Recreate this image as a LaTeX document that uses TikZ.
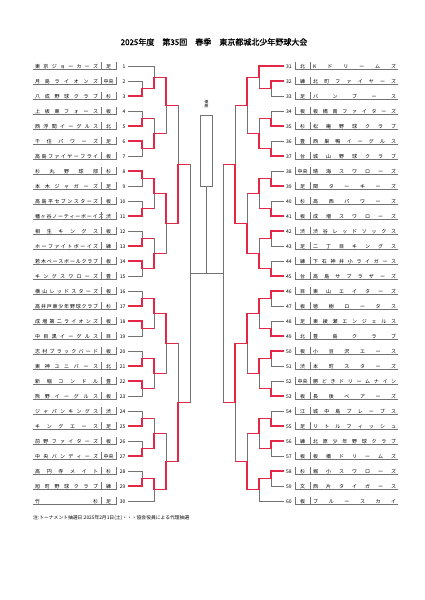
\documentclass[tikz,border=0pt]{standalone}
\usepackage{fontspec}
\setmainfont[AutoFakeBold=1.6]{Noto Sans CJK JP}
\definecolor{winred}{RGB}{226,40,70}

\begin{document}
\begin{tikzpicture}[x=1pt, y=-1pt,
  line/.style={black!55, line width=0.6pt},
  win/.style={winred, line width=1.1pt},
  rowrule/.style={black!55, line width=0.5pt},
  teamname/.style={anchor=base west, inner sep=0pt, font=\fontsize{5}{6}\selectfont},
  ward/.style={anchor=base, inner sep=0pt, font=\fontsize{5}{6}\selectfont},
  teamno/.style={inner sep=0pt, font=\fontsize{5}{6}\selectfont}]
\fill[white] (0,0) rectangle (424,600);
\useasboundingbox (0,0) rectangle (424,600);

\node[font=\bfseries\fontsize{8}{9}\selectfont] (title) at (214,42) {2025年度　第35回　春季　東京都城北少年野球大会};

% left half
\foreach \idx/\tname/\ku in {1/{東 京 ジ ョ ー カ ー ズ}/足, 2/{月 島 ラ イ オ ン ズ}/中央, 3/{八 成 野 球 ク ラ ブ}/杉,
  4/{上 板 東 フ ォ ー ス}/板, 5/{西 浮 間 イ ー グ ル ス}/北, 6/{千 住 パ ワ ー ズ}/足,
  7/{高 島 フ ァ イ ヤ ー フ ラ イ}/板, 8/{杉 丸 野 球 部}/杉, 9/{本 木 ジ ャ ガ ー ズ}/足,
  10/{高 島 平 セ ブ ン ス タ ー ズ}/板, 11/{幡 ヶ 谷 ノ ー テ ィ ー ボ ー イ ズ}/渋, 12/{相 生 キ ン グ ス}/板,
  13/{ホ ー フ ァ イ ト ボ ー イ ズ}/練, 14/{若 木 ベ ー ス ボ ー ル ク ラ ブ}/板, 15/{キ ン グ ス ワ ロ ー ズ}/豊,
  16/{横 山 レ ッ ド ス タ ー ズ}/板, 17/{高 井 戸 東 少 年 野 球 ク ラ ブ}/杉, 18/{成 増 第 二 ラ イ オ ン ズ}/板,
  19/{中 目 黒 イ ー グ ル ス}/目, 20/{志 村 ブ ラ ッ ク バ ー ド}/板, 21/{東 神 ユ ニ バ ー ス}/北,
  22/{新 堀 コ ン ド ル}/豊, 23/{熊 野 イ ー グ ル ス}/板, 24/{ジ ャ パ ン キ ン グ ス}/渋,
  25/{キ ン グ エ ー ス}/足, 26/{前 野 フ ァ イ タ ー ズ}/板, 27/{中 央 バ ン デ ィ ー ズ}/中央,
  28/{高 円 寺 メ イ ト}/杉, 29/{旭 町 野 球 ク ラ ブ}/練, 30/{竹 杉}/足}{
  \pgfmathsetmacro\yy{66+15*(\idx-1)}
  \node[teamname] (name\idx) at (35,\yy+2) {\makebox[63pt][s]{\tname}};
  \node[ward] (ward\idx) at (108.5,\yy+2) {\ku};
  \node[teamno, anchor=base east] (no\idx) at (125.5,\yy+2) {\idx};
  \draw[rowrule] (33,\yy+3.5) -- (116,\yy+3.5) (101,\yy-4) -- (101,\yy+3.5) (116,\yy-4) -- (116,\yy+3.5);
  \coordinate (t\idx) at (128,\yy);
}

% right half
\foreach \idx/\ku/\tname in {31/北/{K ド リ ー ム ズ}, 32/練/{北 町 フ ァ イ ヤ ー ズ}, 33/足/{バ ン ブ ー ス},
  34/板/{板 橋 南 フ ァ イ タ ー ズ}, 35/杉/{松 庵 野 球 ク ラ ブ}, 36/豊/{西 巣 鴨 イ ー グ ル ス},
  37/台/{城 山 野 球 ク ラ ブ}, 38/中央/{晴 海 ス ワ ロ ー ズ}, 39/足/{関 タ ー キ ー ズ},
  40/杉/{高 西 パ ワ ー ズ}, 41/板/{成 増 ス ワ ロ ー ズ}, 42/渋/{渋 谷 レ ッ ド ソ ッ ク ス},
  43/足/{二 丁 目 キ ン グ ス}, 44/練/{下 石 神 井 小 ラ イ ガ ー ス}, 45/台/{高 島 サ ブ ラ ザ ー ズ},
  46/目/{東 山 エ イ タ ー ズ}, 47/板/{徳 樹 ロ ー タ ス}, 48/足/{東 綾 瀬 エ ン ジ ェ ル ス},
  49/北/{豊 島 ク ラ ブ}, 50/板/{小 豆 沢 エ ー ス}, 51/渋/{本 町 ス タ ー ズ},
  52/中央/{勝 ど き ド リ ー ム ナ イ ン}, 53/板/{長 後 ベ ア ー ズ}, 54/江/{城 中 島 ブ レ ー ブ ス},
  55/足/{リ ト ル フ ィ ッ シ ュ}, 56/練/{北 原 少 年 野 球 ク ラ ブ}, 57/板/{板 橋 ド リ ー ム ズ},
  58/杉/{堀 小 ス ワ ロ ー ズ}, 59/文/{西 片 タ イ ガ ー ス}, 60/板/{ブ ル ー ス カ イ}}{
  \pgfmathsetmacro\yy{66+15*(\idx-31)}
  \node[teamno, anchor=base west] (no\idx) at (286,\yy+2) {\idx};
  \node[ward] (ward\idx) at (302.5,\yy+2) {\ku};
  \node[teamname] (name\idx) at (313,\yy+2) {\makebox[83pt][s]{\tname}};
  \draw[rowrule] (295,\yy+3.5) -- (398,\yy+3.5) (295,\yy-4) -- (295,\yy+3.5) (310,\yy-4) -- (310,\yy+3.5);
  \coordinate (t\idx) at (284,\yy);
}

% first round
\foreach \p in {2,4,...,28}{
  \pgfmathsetmacro\ym{66+15*(\p-1)+7.5}
  \pgfmathtruncatemacro\q{\p+1}
  \coordinate (a\p) at (142,\ym);
  \draw[line] (t\p) -| (a\p) (t\q) -| (a\p);
}
\foreach \p in {32,34,...,58}{
  \pgfmathsetmacro\ym{66+15*(\p-31)+7.5}
  \pgfmathtruncatemacro\q{\p+1}
  \coordinate (a\p) at (271,\ym);
  \draw[line] (t\p) -| (a\p) (t\q) -| (a\p);
}

% later rounds
\coordinate (b1) at (154,77.25);
\coordinate (b4) at (154,133.5);
\coordinate (b8) at (154,193.5);
\coordinate (b12) at (154,253.5);
\coordinate (b16) at (154,313.5);
\coordinate (b20) at (154,373.5);
\coordinate (b24) at (154,433.5);
\coordinate (b28) at (154,489.75);
\coordinate (c1) at (166,105.375);
\coordinate (c8) at (166,223.5);
\coordinate (c16) at (166,343.5);
\coordinate (c24) at (166,461.625);
\coordinate (d1) at (178,164.44);
\coordinate (d16) at (178,402.56);
\coordinate (e1) at (190,273);
\coordinate (b31) at (259,77.25);
\coordinate (b34) at (259,133.5);
\coordinate (b38) at (259,193.5);
\coordinate (b42) at (259,253.5);
\coordinate (b46) at (259,313.5);
\coordinate (b50) at (259,373.5);
\coordinate (b54) at (259,433.5);
\coordinate (b58) at (259,489.75);
\coordinate (c31) at (247,105.375);
\coordinate (c38) at (247,223.5);
\coordinate (c46) at (247,343.5);
\coordinate (c54) at (247,461.625);
\coordinate (d31) at (235,164.44);
\coordinate (d46) at (235,402.56);
\coordinate (e31) at (223,273);
\coordinate (fin) at (206.5,273);

\foreach \m/\u/\v in {b1/t1/a2, b4/a4/a6, b8/a8/a10, b12/a12/a14, b16/a16/a18, b20/a20/a22,
  b24/a24/a26, b28/a28/t30, c1/b1/b4, c8/b8/b12, c16/b16/b20, c24/b24/b28, d1/c1/c8, d16/c16/c24,
  e1/d1/d16, b31/t31/a32, b34/a34/a36, b38/a38/a40, b42/a42/a44, b46/a46/a48, b50/a50/a52,
  b54/a54/a56, b58/a58/t60, c31/b31/b34, c38/b38/b42, c46/b46/b50, c54/b54/b58, d31/c31/c38,
  d46/c46/c54, e31/d31/d46}
  \draw[line] (\u) -| (\m) (\v) -| (\m);

% final and cup
\node[font=\fontsize{3.8}{4.2}\selectfont, align=center, inner sep=0pt] (yusho) at (206.5,104) {優\\勝};
\node[draw=black!55, line width=0.6pt, minimum width=12pt, minimum height=71pt, inner sep=0pt] (cup) at (206.5,150.5) {};
\draw[line] (cup.south) -- (fin);
\draw[line] (e1) -- (e31);

% winners
\foreach \w/\m/\nx in {t3/a2/b1, t5/a4/b4, t6/a6/b4, t8/a8/b8, t11/a10/b8, t13/a12/b12, t14/a14/b12,
  t17/a16/b16, t18/a18/b16, t21/a20/b20, t22/a22/b20, t25/a24/b24, t27/a26/b24, t29/a28/b28,
  a2/b1/c1, a6/b4/c1, a8/b8/c8, a14/b12/c8, a16/b16/c16, a20/b20/c16, a26/b24/c24, a28/b28/c24,
  b1/c1/d1, b8/c8/d1, b16/c16/d16, b28/c24/d16, c8/d1/e1, c24/d16/e1,
  t32/a32/b31, t35/a34/b34, t37/a36/b34, t39/a38/b38, t41/a40/b38, t42/a42/b42, t45/a44/b42,
  t46/a46/b46, t49/a48/b46, t50/a50/b50, t53/a52/b50, t55/a54/b54, t56/a56/b54, t58/a58/b58,
  t31/b31/c31, a36/b34/c31, a38/b38/c38, a44/b42/c38, a46/b46/c46, a50/b50/c46, a54/b54/c54, a58/b58/c54,
  b31/c31/d31, b42/c38/d31, b46/c46/d46, b58/c54/d46, c38/d31/e31, c46/d46/e31}
  \draw[win] (\w) -| (\m) -- (\m -| \nx);

\node[anchor=west, inner sep=0pt, font=\fontsize{4.8}{5.5}\selectfont] (note) at (33,518) {注:トーナメント抽選日:2025年2月1日(土)・・・協会役員による代理抽選};
\end{tikzpicture}
\end{document}
